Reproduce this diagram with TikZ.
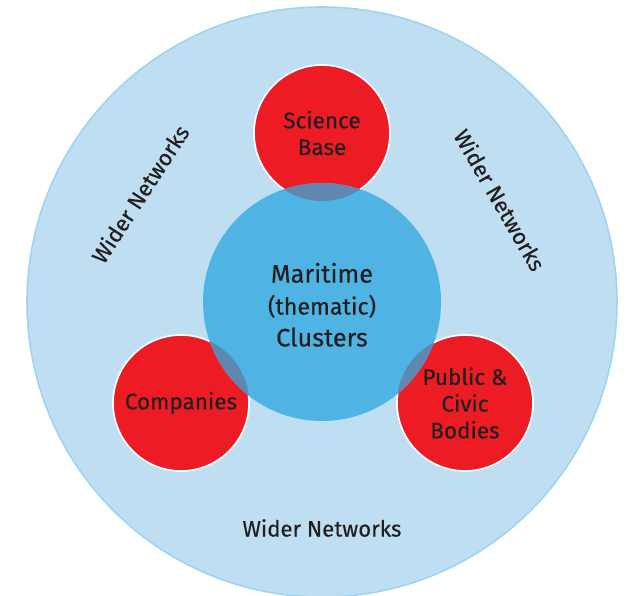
\documentclass[tikz,border=0pt]{standalone}
\usepackage{fontspec}
\setmainfont{Fira Sans}
\newfontfamily\diagfont[FakeBold=0.4]{Fira Sans}
\usetikzlibrary{positioning}
\definecolor{widerblue}{HTML}{BFDEF2}
\definecolor{rimblue}{HTML}{9DD5F0}
\definecolor{clusterblue}{HTML}{4FB3E3}
\definecolor{partnerred}{HTML}{ED1C24}
\definecolor{overlapblue}{HTML}{5F87B0}
\definecolor{textgrey}{HTML}{231F20}
\tikzset{
  partner/.style={circle, fill=partnerred, draw=white, line width=1.2pt, minimum size=3.4cm,
    inner sep=0pt, align=center, text=textgrey, font=\diagfont\fontsize{16}{19}\selectfont},
  cluster/.style={circle, fill=clusterblue, minimum size=5.95cm, inner sep=0pt},
  wider/.style={text=textgrey, font=\diagfont\fontsize{15.8}{18}\selectfont}
}
\begin{document}
\begin{tikzpicture}
  \useasboundingbox (-8.05,-7.35) rectangle (7.825,7.55);
  % outer ring
  \draw[fill=widerblue, draw=rimblue, line width=1.1pt] (0,0) circle (7.375);
  % partners
  \node[partner] (science) at (0,4.225) {Science\\Base};
  \node[partner] (companies) at (-3.525,-2.525) {Companies};
  \node[partner] (public) at (3.575,-2.525) {Public \&\\Civic\\Bodies};
  % centre
  \node[cluster] (maritime) at (0,0) {};
  %overlaps
  \begin{scope}
    \clip (maritime.center) circle (2.975);
    \fill[overlapblue] (science.center) circle (1.7);
    \fill[overlapblue] (companies.center) circle (1.7);
    \fill[overlapblue] (public.center) circle (1.7);
  \end{scope}
  \node[align=center, text=textgrey, font=\diagfont\fontsize{18}{22.7}\selectfont] (label)
    at ([yshift=-0.07cm]maritime.center)
    {Maritime\\{\fontsize{16.5}{22.7}\selectfont(thematic)}\\Clusters};
  % wider networks
  \node[wider, rotate=57] (widerleft) at (-4.55,2.7) {Wider Networks};
  \node[wider, rotate=-60] (widerright) at (4.45,2.55) {Wider Networks};
  \node[wider] (widerbottom) at (0,-5.65) {Wider Networks};
\end{tikzpicture}
\end{document}
